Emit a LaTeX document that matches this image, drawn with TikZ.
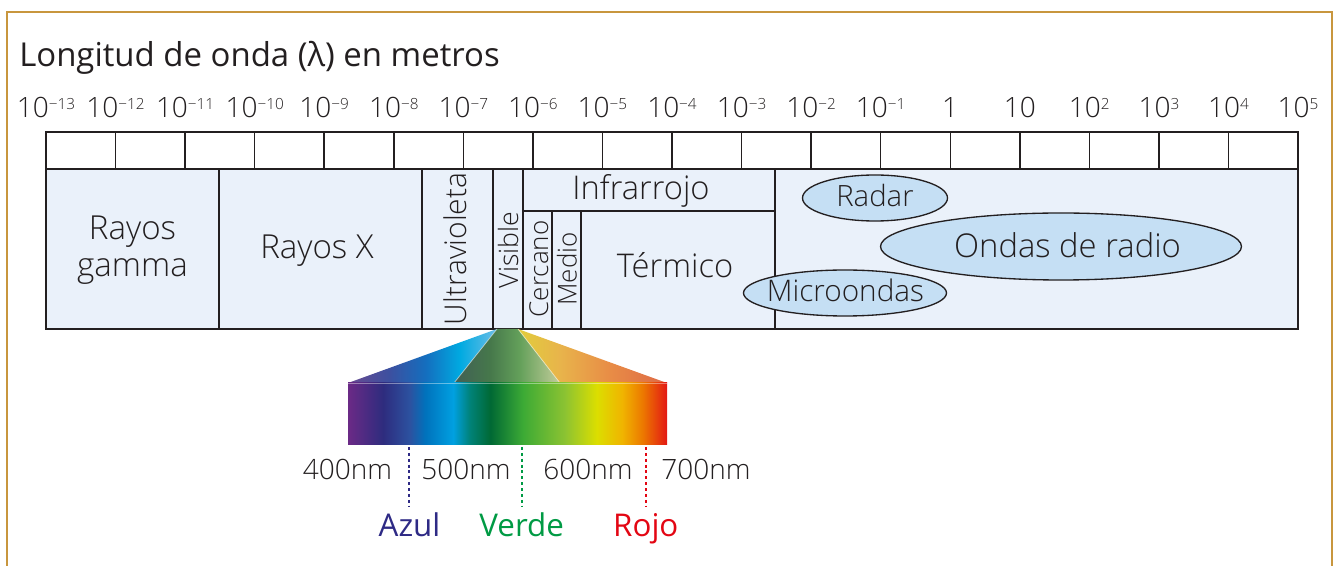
\documentclass[tikz,border=0pt]{standalone}
\usepackage{fontspec}
\setmainfont{Open Sans Light}
\newfontfamily\titlefont{Open Sans}
\usetikzlibrary{shapes.geometric}
\definecolor{ink}{RGB}{35,31,32}
\definecolor{framec}{RGB}{200,150,62}
\definecolor{bandc}{RGB}{234,241,250}
\definecolor{ellc}{RGB}{197,223,244}
\definecolor{azulc}{RGB}{46,42,133}
\definecolor{verdec}{RGB}{0,154,68}
\definecolor{rojoc}{RGB}{227,6,19}
% rectangle spectrum
\definecolor{r0}{RGB}{107,42,134}
\definecolor{r1}{RGB}{46,44,126}
\definecolor{r2}{RGB}{44,82,160}
\definecolor{r3}{RGB}{0,114,188}
\definecolor{r4}{RGB}{0,160,225}
\definecolor{r5}{RGB}{0,130,120}
\definecolor{r6}{RGB}{0,105,52}
\definecolor{r7}{RGB}{60,170,53}
\definecolor{r8}{RGB}{140,195,50}
\definecolor{r9}{RGB}{220,222,0}
\definecolor{r10}{RGB}{240,180,0}
\definecolor{r11}{RGB}{236,120,0}
\definecolor{r12}{RGB}{227,24,20}
\pgfdeclarehorizontalshading{specrect}{100bp}{color(0bp)=(r0); color(25bp)=(r0); color(30.5bp)=(r1); color(34.7bp)=(r2); color(37.1bp)=(r3); color(41.5bp)=(r4); color(44.1bp)=(r5); color(47.3bp)=(r6); color(52.4bp)=(r7); color(59bp)=(r8); color(64bp)=(r9); color(68bp)=(r10); color(71.2bp)=(r11); color(75bp)=(r12); color(100bp)=(r12)}
% trapezoid left
\definecolor{a0}{RGB}{105,75,145}
\definecolor{a1}{RGB}{60,80,160}
\definecolor{a2}{RGB}{20,110,190}
\definecolor{a3}{RGB}{0,170,225}
\definecolor{a4}{RGB}{110,190,230}
\pgfdeclarehorizontalshading{trapl}{100bp}{color(0bp)=(a0); color(25bp)=(a0); color(39bp)=(a1); color(51bp)=(a2); color(62.6bp)=(a3); color(75bp)=(a4); color(100bp)=(a4)}
% trapezoid middle
\definecolor{b0}{RGB}{65,95,85}
\definecolor{b1}{RGB}{70,120,75}
\definecolor{b2}{RGB}{100,160,90}
\definecolor{b3}{RGB}{195,205,155}
\pgfdeclarehorizontalshading{trapm}{100bp}{color(0bp)=(b0); color(25bp)=(b0); color(42bp)=(b1); color(56bp)=(b2); color(75bp)=(b3); color(100bp)=(b3)}
% trapezoid right
\definecolor{d0}{RGB}{225,205,60}
\definecolor{d1}{RGB}{232,180,75}
\definecolor{d2}{RGB}{232,140,70}
\definecolor{d3}{RGB}{222,105,70}
\pgfdeclarehorizontalshading{trapr}{100bp}{color(0bp)=(d0); color(25bp)=(d0); color(39bp)=(d1); color(56bp)=(d2); color(75bp)=(d3); color(100bp)=(d3)}
\newcommand\spx[1]{\raisebox{6.5pt}{\fontsize{11.5}{12}\selectfont #1}}
\tikzset{
  lbl/.style={text=ink, inner sep=0pt, anchor=base},
  scl/.style={lbl, font=\fontsize{21}{24}\selectfont},
  big/.style={lbl, font=\fontsize{24.8}{28}\selectfont},
  mid/.style={lbl, font=\fontsize{24.5}{28}\selectfont},
  small/.style={lbl, font=\fontsize{19.5}{22}\selectfont},
  cname/.style={lbl, font=\titlefont\fontsize{23.5}{28}\selectfont},
  cellline/.style={draw=ink, line width=1.1pt},
  thinline/.style={draw=ink, line width=1pt},
  thickline/.style={draw=ink, line width=2pt},
  ell/.style={ellipse, draw=ink, line width=1pt, fill=ellc, inner sep=0pt},
  dots/.style={line width=1.6pt, dash pattern=on 2.2pt off 2.2pt},
}
\begin{document}
\begin{tikzpicture}[x=0.75pt,y=-0.75pt]
\useasboundingbox (0,0) rectangle (1336,566);
% frame
\draw[framec, line width=1.1pt] (7,570) -- (7,12) -- (1332,12) -- (1332,570);
% title
\node[lbl, anchor=base west, font=\titlefont\fontsize{24.7}{28}\selectfont] (title) at (19,67) {Longitud de onda (λ) en metros};
% scale labels
\foreach \lab [count=\k from 0] in {10\spx{−13},10\spx{−12},10\spx{−11},10\spx{−10},10\spx{−9},10\spx{−8},10\spx{−7},10\spx{−6},10\spx{−5},10\spx{−4},10\spx{−3},10\spx{−2},10\spx{−1},1,10,10\spx{2},10\spx{3},10\spx{4},10\spx{5}}
  \node[scl] (s\k) at ({46+69.556*\k},118) {\lab};
% scale cells
\draw[cellline] (46,132) rectangle (1298,169);
\foreach \k in {1,...,17} \draw[cellline] ({46+69.556*\k},132) -- ({46+69.556*\k},169);
% band
\fill[bandc] (46,169) rectangle (1298,329);
\draw[thinline] (219,169) -- (219,329);
\draw[thinline] (422,169) -- (422,329);
\draw[thinline] (523,211) -- (775,211);
\draw[thinline] (552,211) -- (552,329);
\draw[thinline] (581,211) -- (581,329);
\draw[thinline] (775,169) -- (775,329);
\draw[thickline] (493,169) -- (493,329);
\draw[thickline] (523,169) -- (523,329);
% ellipses
\node[ell, minimum width=145*0.75pt, minimum height=46*0.75pt] (radar) at (875,198) {};
\node[ell, minimum width=361*0.75pt, minimum height=67*0.75pt] (radio) at (1061,246.5) {};
\node[ell, minimum width=203*0.75pt, minimum height=46*0.75pt] (micro) at (845,293) {};
\draw[ink, line width=1.5pt] (46,169) rectangle (1298,329);
% band labels
\node[big] (rg1) at (132.5,240) {Rayos};
\node[big] (rg2) at (132.5,277) {gamma};
\node[big] (rx) at (317,259) {Rayos X};
\node[lbl, font=\fontsize{22.5}{26}\selectfont, rotate=90] (uv) at (466.5,249) {Ultravioleta};
\node[lbl, font=\fontsize{20}{24}\selectfont, rotate=90] (vis) at (518,250) {Visible};
\node[mid] (ir) at (641,200) {Infrarrojo};
\node[small, rotate=90] (cer) at (548,269) {Cercano};
\node[small, rotate=90] (med) at (576.5,269) {Medio};
\node[mid] (ter) at (675,278) {Térmico};
\node[lbl, font=\fontsize{22}{26}\selectfont] (radart) at (875,207) {Radar};
\node[lbl, font=\fontsize{24.6}{28}\selectfont] (radiot) at (1067.5,257.5) {Ondas de radio};
\node[lbl, font=\fontsize{22.3}{26}\selectfont] (microt) at (845.5,301.7) {Microondas};
% spectrum
\shade[shading=trapl] (348,383) -- (454,383) -- (497,329) -- cycle;
\shade[shading=trapm] (454,383) -- (560,383) -- (518,329) -- (497,329) -- cycle;
\shade[shading=trapr] (560,383) -- (667,383) -- (518,329) -- cycle;
\draw[white, opacity=0.5, line width=0.6pt] (454,383) -- (497,329) (560,383) -- (518,329);
\shade[shading=specrect] (348,383) rectangle (667,445);
\draw[white, opacity=0.4, line width=0.6pt] (348,383) -- (667,383);
% wavelength labels
\node[scl] (n400) at (347.5,480) {400nm};
\node[scl] (n500) at (466,480) {500nm};
\node[scl] (n600) at (588,480) {600nm};
\node[scl] (n700) at (706,480) {700nm};
% colour names
\node[cname, text=azulc] (azul) at (409.5,537) {Azul};
\node[cname, text=verdec] (verde) at (521.7,537) {Verde};
\node[cname, text=rojoc] (rojo) at (645.8,537) {Rojo};
\coordinate (ca) at (409,447);
\coordinate (cv) at (522,447);
\coordinate (cr) at (646,447);
\draw[dots, azulc] (ca) -- (409,506);
\draw[dots, verdec] (cv) -- (522,506);
\draw[dots, rojoc] (cr) -- (646,506);
\end{tikzpicture}
\end{document}
